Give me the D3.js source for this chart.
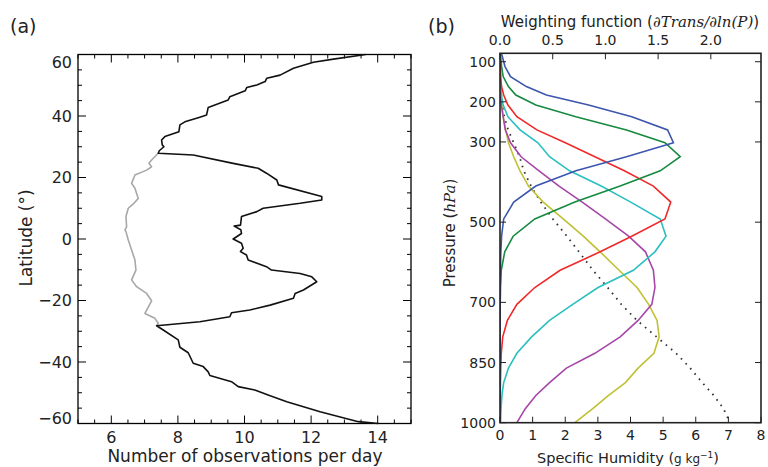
<!DOCTYPE html>
<html><head><meta charset="utf-8">
<script src="https://cdn.jsdelivr.net/npm/d3@7/dist/d3.min.js"></script>
<style>body{margin:0;background:#fff} svg{display:block}</style>
</head><body>
<svg id="c" width="768" height="467"></svg>
<script>
// ---------- Panel (a) data ----------
const latBlack = [60,58.5,57.5,55.5,53.3,52.3,51.2,50.1,49.3,48.2,46.3,45.2,42.8,40.3,39.6,38.1,37.1,34.9,33.3,32.2,30.6,30.0,28.7,27.9,
  27.3,24.6,23,21.4,19.2,17.6,13.8,12.7,11.6,10,8.9,7.3,4.5,4.2,3.0,1.8,0,-1.4,-3.0,-4.1,-5.2,-6.8,-9,-10.1,-11.2,-12.3,-13.9,
  -16.6,-17.7,-19.3,-21.5,-23.1,-24,-25.3,-26.9,-28.2,-29.6,-32.8,-35.2,-37,-40.4,-41.5,-43.2,-44.4,-46.4,-48,-49.1,-51,-52.9,-56.2,-59.4,-60];
const obsBlack = [13.64,12.67,12.07,11.47,11.07,10.67,10.62,10.37,10.07,10.02,9.56,9.51,8.91,8.86,8.66,8.21,8.06,8.03,7.61,7.51,7.53,7.58,7.44,7.41,
  8.46,9.66,10.41,10.66,10.97,11.02,12.32,12.32,11.67,10.56,10.37,9.91,9.88,9.69,9.89,9.91,9.66,9.91,9.96,9.88,10.06,10.11,10.66,10.81,11.67,12.02,12.17,
  11.77,11.52,11.47,10.77,10.16,9.61,9.56,8.66,7.36,7.56,8.01,8.06,8.31,8.46,8.76,8.91,8.96,9.61,9.81,10.31,10.77,11.27,12.27,13.42,14.02];
const latGray = [27.9,25.7,24.6,23.5,22.4,20.8,18.1,16.5,13.2,11.4,10,7.3,4,2.9,2.4,-0.3,-3.6,-6.8,-10.1,-13.3,-15.5,-17.7,-20.1,-24.2,-25.8,-27.4,-28.2];
const obsGray = [7.41,7.21,7.13,7.21,7.06,6.71,6.61,6.71,6.81,6.66,6.51,6.44,6.46,6.41,6.44,6.51,6.61,6.71,6.74,6.61,6.76,7.06,7.21,7.01,7.31,7.41,7.36];
const latTicks = [-60,-40,-20,0,20,40,60];
const obsTicks = [6,8,10,12,14];

// ---------- Panel (b) data ----------
const pLevels = [80,112,137,162,183,208,237,270,302,337,372,410,450,492,535,574,620,663,705,745,786,827,864,900,932,965,1000];
const wBlue    = [0.015,0.047,0.1,0.25,0.44,0.84,1.25,1.59,1.645,1.2,0.72,0.34,0.13,0.035,0.015,0.008,0.004,0.002,0.001,0,0,0,0,0,0,0,0];
const wGreen   = [0.003,0.015,0.03,0.08,0.15,0.34,0.72,1.2,1.565,1.71,1.52,1.14,0.71,0.33,0.125,0.045,0.012,0.005,0.002,0,0,0,0,0,0,0,0];
const wRed     = [0,0.002,0.005,0.015,0.035,0.075,0.16,0.35,0.62,0.9,1.18,1.455,1.62,1.565,1.25,0.95,0.57,0.33,0.16,0.07,0.026,0.012,0.007,0.004,0.002,0.001,0];
const wCyan    = [0,0,0.002,0.006,0.012,0.03,0.075,0.19,0.36,0.47,0.66,0.96,1.24,1.52,1.575,1.47,1.265,0.93,0.69,0.47,0.30,0.16,0.08,0.035,0.018,0.01,0.005];
const wMagenta = [0,0,0,0.002,0.005,0.012,0.03,0.05,0.1,0.2,0.37,0.56,0.78,1.0,1.22,1.38,1.455,1.47,1.44,1.31,1.14,0.9,0.63,0.47,0.34,0.24,0.16];
const wYellow  = [0,0.004,0.007,0.01,0.013,0.018,0.03,0.055,0.08,0.13,0.19,0.27,0.41,0.6,0.79,0.95,1.13,1.3,1.41,1.49,1.51,1.46,1.31,1.19,1.03,0.88,0.71];
const humidity = [0,0.005,0.01,0.02,0.04,0.07,0.13,0.25,0.42,0.6,0.73,0.95,1.25,1.62,2.05,2.42,2.85,3.3,3.72,4.2,4.8,5.4,5.83,6.2,6.55,6.85,7.05];
const pTicks = [100,200,300,500,700,850,1000];
const wTicks = [0,0.5,1.0,1.5,2.0];
const qTicks = [0,1,2,3,4,5,6,7,8];

const svg = d3.select('#c');
const SANS = "'DejaVu Sans', sans-serif";
const SERIF = "'DejaVu Serif', serif";

// ================= Panel (a) =================
const ax = {l:78, r:411, t:54.5, b:423.5};
const xA = d3.scaleLinear().domain([5,15]).range([ax.l, ax.r]);
const yA = d3.scaleLinear().domain([-60,60]).range([ax.b, ax.t]);
const gA = svg.append('g');

const tickA = gA.append('g').attr('stroke','#000').attr('stroke-width',1);
d3.range(5,15.001,0.5).forEach(v=>{
  const major = obsTicks.includes(v);
  const L = major?8:4;
  const x = xA(v);
  tickA.append('line').attr('x1',x).attr('x2',x).attr('y1',ax.b).attr('y2',ax.b-L);
  tickA.append('line').attr('x1',x).attr('x2',x).attr('y1',ax.t).attr('y2',ax.t+L);
});
d3.range(-60,60.001,5).forEach(v=>{
  const major = latTicks.includes(v);
  const L = major?8:4;
  const y = yA(v);
  tickA.append('line').attr('x1',ax.l).attr('x2',ax.l+L).attr('y1',y).attr('y2',y);
  tickA.append('line').attr('x1',ax.r).attr('x2',ax.r-L).attr('y1',y).attr('y2',y);
});
gA.append('rect').attr('x',ax.l).attr('y',ax.t).attr('width',ax.r-ax.l).attr('height',ax.b-ax.t)
  .attr('fill','none').attr('stroke','#000').attr('stroke-width',1.3);

const lineA = d3.line().x(d=>xA(d[1])).y(d=>yA(d[0]));
gA.append('path').datum(latGray.map((l,i)=>[l,obsGray[i]])).attr('d',lineA)
  .attr('fill','none').attr('stroke','#a8a8a8').attr('stroke-width',1.6).attr('stroke-linejoin','round');
gA.append('path').datum(latBlack.map((l,i)=>[l,obsBlack[i]])).attr('d',lineA)
  .attr('fill','none').attr('stroke','#111').attr('stroke-width',1.6).attr('stroke-linejoin','round');

const fmtMinus = v => (v<0?'\u2212':'') + Math.abs(v);
gA.selectAll('.xl').data(obsTicks).enter().append('text')
  .attr('x',d=>xA(d)).attr('y',443).attr('text-anchor','middle')
  .attr('font-family',SANS).attr('font-size',16).attr('fill','#222').text(d=>d);
gA.selectAll('.yl').data(latTicks).enter().append('text')
  .attr('x',72).attr('y',d=>Math.max(62,Math.min(418,yA(d)))).attr('dy','0.36em').attr('text-anchor','end')
  .attr('font-family',SANS).attr('font-size',16).attr('fill','#222').text(fmtMinus);
gA.append('text').attr('x',245).attr('y',462).attr('text-anchor','middle')
  .attr('font-family',SANS).attr('font-size',17).attr('fill','#222').text('Number of observations per day');
gA.append('text').attr('transform','translate(32,238) rotate(-90)').attr('text-anchor','middle')
  .attr('font-family',SANS).attr('font-size',17).attr('fill','#222').text('Latitude (\u00B0)');
svg.append('text').attr('x',10).attr('y',33).attr('font-family',SANS).attr('font-size',19).attr('fill','#222').text('(a)');

// ================= Panel (b) =================
const bx = {l:500, r:761, t:53.3, b:422.7};
const xW = d3.scaleLinear().domain([0,2.476]).range([bx.l,bx.r]);
const xQ = d3.scaleLinear().domain([0,8]).range([bx.l,bx.r]);
const yP = d3.scaleLinear().domain([79,1000]).range([bx.t,bx.b]);
const gB = svg.append('g');

svg.append('defs').append('clipPath').attr('id','clipB').append('rect')
  .attr('x',bx.l).attr('y',bx.t).attr('width',bx.r-bx.l).attr('height',bx.b-bx.t);

const series = [
  {w:wYellow, c:'#c0c035'},
  {w:wMagenta,c:'#a646a8'},
  {w:wCyan,   c:'#2bbfc0'},
  {w:wRed,    c:'#f02a2a'},
  {w:wGreen,  c:'#158a40'},
  {w:wBlue,   c:'#3d56ad'}
];
const plotB = gB.append('g').attr('clip-path','url(#clipB)');
const lineW = d3.line().x(d=>xW(d[1])).y(d=>yP(d[0]));
const lineQ = d3.line().x(d=>xQ(d[1])).y(d=>yP(d[0]));
plotB.append('path').datum(pLevels.map((p,i)=>[p,humidity[i]])).attr('d',lineQ)
  .attr('fill','none').attr('stroke','#333').attr('stroke-width',1.8)
  .attr('stroke-dasharray','1.6 5.2').attr('stroke-linecap','butt');
series.forEach(s=>{
  plotB.append('path').datum(pLevels.map((p,i)=>[p,s.w[i]])).attr('d',lineW)
    .attr('fill','none').attr('stroke',s.c).attr('stroke-width',1.6).attr('stroke-linejoin','miter');
});

const tickB = gB.append('g').attr('stroke','#222').attr('stroke-width',1);
pTicks.forEach(p=>{
  const y = yP(p);
  tickB.append('line').attr('x1',bx.l).attr('x2',bx.l+6).attr('y1',y).attr('y2',y);
  tickB.append('line').attr('x1',bx.r).attr('x2',bx.r-6).attr('y1',y).attr('y2',y);
});
qTicks.forEach(q=>{
  const x = xQ(q);
  tickB.append('line').attr('x1',x).attr('x2',x).attr('y1',bx.b).attr('y2',bx.b-6);
});
wTicks.forEach(w=>{
  const x = xW(w);
  tickB.append('line').attr('x1',x).attr('x2',x).attr('y1',bx.t).attr('y2',bx.t+6);
});
gB.append('rect').attr('x',bx.l).attr('y',bx.t).attr('width',bx.r-bx.l).attr('height',bx.b-bx.t)
  .attr('fill','none').attr('stroke','#222').attr('stroke-width',1.6);

gB.selectAll('.pl').data(pTicks).enter().append('text')
  .attr('x',496).attr('y',d=>yP(d)).attr('dy','0.36em').attr('text-anchor','end')
  .attr('font-family',SANS).attr('font-size',14).attr('fill','#222').text(d=>d);
gB.selectAll('.ql').data(qTicks).enter().append('text')
  .attr('x',d=>xQ(d)).attr('y',440).attr('text-anchor','middle')
  .attr('font-family',SANS).attr('font-size',14).attr('fill','#222').text(d=>d);
gB.selectAll('.wl').data(wTicks).enter().append('text')
  .attr('x',d=>xW(d)).attr('y',45).attr('text-anchor','middle')
  .attr('font-family',SANS).attr('font-size',14).attr('fill','#222').text(d=>d3.format('.1f')(d));

const title = gB.append('text').attr('x',630).attr('y',26.5).attr('text-anchor','middle')
  .attr('font-family',SANS).attr('font-size',15).attr('fill','#222');
title.append('tspan').text('Weighting function (');
title.append('tspan').attr('font-family',SERIF).attr('font-style','italic').text('\u2202Trans/\u2202ln(P)');
title.append('tspan').text(')');

const xlab = gB.append('text').attr('x',628).attr('y',463).attr('text-anchor','middle')
  .attr('font-family',SANS).attr('font-size',14.5).attr('fill','#222');
xlab.append('tspan').text('Specific Humidity (');
xlab.append('tspan').attr('font-size',12).text('g kg');
xlab.append('tspan').attr('font-size',9).attr('dy',-5).text('\u22121');
xlab.append('tspan').attr('dy',5).text(')');

const ylab = gB.append('text').attr('transform','translate(455,233) rotate(-90)').attr('text-anchor','middle')
  .attr('font-family',SANS).attr('font-size',15).attr('fill','#222');
ylab.append('tspan').text('Pressure (');
ylab.append('tspan').attr('font-family',SERIF).attr('font-style','italic').text('hPa');
ylab.append('tspan').text(')');

svg.append('text').attr('x',428).attr('y',33).attr('font-family',SANS).attr('font-size',19).attr('fill','#222').text('(b)');
</script>
</body></html>
